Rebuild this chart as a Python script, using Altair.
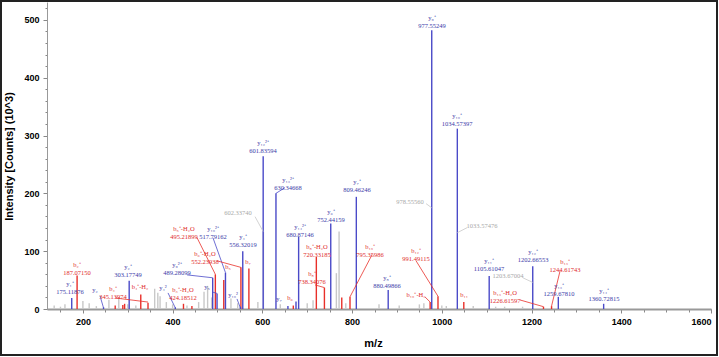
import altair as alt
import pandas as pd

# ---- peaks (m/z, intensity in 10^3 counts) ----
y_mz = [175.12, 246, 303.18, 406, 489.28, 499, 517.79, 551, 556.32, 601.84, 630.35, 657, 675,
        680.87, 752.44, 809.46, 880.50, 977.55, 1034.57, 1105.61, 1202.67, 1259.68, 1360.73]
y_int = [19, 3, 49, 3, 54, 27, 63, 4, 100, 264, 200, 5, 13,
         125, 148, 194, 33, 482, 312, 57, 74, 21, 9]

b_mz = [187.07, 272, 289, 293, 329, 345.14, 424.19, 443, 495.22, 514, 552.24, 570, 669,
        720.33, 738.34, 777, 795.36, 974, 991.49, 1049, 1226.62, 1244.62]
b_int = [58, 6, 7, 9, 25, 11, 9, 5, 60, 50, 72, 70, 6,
         90, 37, 20, 21, 12, 22, 12, 4, 5]

grey_mz = [136, 150, 160, 200, 214, 230, 258, 280, 300, 318, 360, 367, 372, 386, 400, 432,
           458, 470, 478, 487, 530, 545, 590, 602.34, 640, 700, 713, 765, 771, 786, 860,
           905, 950, 960, 1000, 1010, 1070, 1120, 1140, 1180]
grey_int = [6, 4, 8, 14, 10, 5, 16, 20, 8, 6, 35, 28, 22, 12, 8, 6,
            12, 30, 40, 20, 18, 10, 12, 134, 8, 10, 15, 62, 134, 10, 8,
            6, 8, 10, 6, 5, 5, 4, 4, 4]

# ---- axis ticks ----
x_major = [200, 400, 600, 800, 1000, 1200, 1400, 1600]
x_minor = list(range(150, 1601, 50))
y_major = [0, 100, 200, 300, 400, 500]
y_minor = list(range(0, 521, 20))

# ---- annotations ----
lab_text = [
    "y₁⁺\n175.11876", "y₂", "y₂⁺\n303.17749", "y₄²", "y₉²⁺\n489.28099", "y₅",
    "y₁₀²⁺\n517.79162", "y₁₀²", "y₄⁺\n556.32019", "y₁₂²⁺\n601.83594", "y₁₃²⁺\n630.34668",
    "y₇", "y₁₄²⁺\n680.87146", "y₆⁺\n752.44159", "y₇⁺\n809.46246", "y₈⁺\n880.49866",
    "y₉⁺\n977.55249", "y₁₀⁺\n1034.57397", "y₁₁⁺\n1105.61047", "y₁₂⁺\n1202.66553",
    "y₁₃⁺\n1259.67810", "y₁₄⁺\n1360.72815",
    "b₂⁺\n187.07150", "b₄⁺\n345.13974", "b₄⁺-H₂", "b₃⁺-H₂O\n424.18512",
    "b₅⁺-H₂O\n495.21899", "b₆⁺-H₂O\n552.23938", "b₅", "b₇", "b₆",
    "b₈⁺-H₂O\n720.33185", "b₈⁺\n738.34076", "b₁₀⁺\n795.35986", "b₁₂⁺\n991.49115",
    "b₁₀⁺-H₂", "b₁₁", "b₁₃⁺-H₂O\n1226.61597", "b₁₃⁺\n1244.61743",
    "602.33740", "978.55560", "1033.57476", "1203.67004",
]
lab_kind = ["y"] * 22 + ["b"] * 17 + ["g"] * 4
lab_mz = [171.3, 227, 300.6, 378.6, 409.8, 476.7, 490, 534.6, 556.9, 601.5, 657.2, 637.2,
          684, 753.1, 811, 877.9, 978.2, 1034, 1105.3, 1203.4, 1261.3, 1361.6,
          186.9, 267.1, 327.3, 423.2, 425.4, 472.2, 523.5, 568, 661.7, 721.9, 710.7,
          840, 942.6, 942.6, 1049.6, 1141, 1274.7,
          545.8, 929.2, 1089.7, 1147.6]
lab_int = [42.5, 33, 72.9, 36.5, 76.4, 38.2, 138, 24.3, 124.1, 287.3, 223.1, 17.4,
           141.5, 168.4, 219.6, 53.8, 503.5, 333.3, 83.3, 98.1, 39.9, 31.3,
           76.4, 34.7, 38.2, 32.1, 138, 95.5, 72.9, 81.6, 19.1, 107.6, 59.9,
           107.6, 99.8, 24.3, 24.3, 27.8, 80.7,
           166.7, 185.8, 144.1, 57.3]

# leader lines (from label to peak)
ld_kind = ["y"] * 7 + ["b"] * 9 + ["g"] * 4
ld_mz1 = [238.1, 389.7, 432.1, 490, 487.8, 543.5, 650.5,
          271.6, 454.4, 499, 717.4, 844.5, 942.6, 962.6, 1174.4, 1263.6,
          583.7, 964.8, 1056.2, 1181.1]
ld_int1 = [22.6, 27.8, 59, 123, 29.5, 17.4, 210,
           19.1, 123.3, 83.3, 41.7, 93.8, 83.3, 20.8, 15.6, 66,
           159.7, 182.3, 140.6, 53.8]
ld_mz2 = [246, 406, 489.28, 517.79, 499, 551, 630.35,
          345.14, 495.22, 552.24, 738.34, 795.36, 991.49, 974, 1226.62, 1244.62,
          601.84, 977.55, 1034.57, 1202.67]
ld_int2 = [2, 2, 54, 63, 27, 2, 200,
           12, 60, 72, 37, 21, 22, 12, 4, 5,
           134, 175, 132, 46]

peaks = pd.DataFrame({
    "mz": grey_mz + y_mz + b_mz,
    "inten": grey_int + y_int + b_int,
    "kind": ["g"] * len(grey_mz) + ["y"] * len(y_mz) + ["b"] * len(b_mz),
})
peaks["base"] = 0
labels = pd.DataFrame({"text": lab_text, "kind": lab_kind, "mz": lab_mz, "inten": lab_int})
leaders = pd.DataFrame({"kind": ld_kind, "mz1": ld_mz1, "i1": ld_int1, "mz2": ld_mz2, "i2": ld_int2})

line_col = alt.Scale(domain=["g", "y", "b"], range=["#c8c8c8", "#4a4ac8", "#e8302a"])
text_col = alt.Scale(domain=["g", "y", "b"], range=["#a8a8a8", "#3a3aa8", "#e02a2a"])

xs = alt.Scale(domain=[120, 1600], nice=False, zero=False)
ys = alt.Scale(domain=[0, 531], nice=False)

lab_style = dict(labelFont="Liberation Sans", labelFontWeight="bold", labelFontSize=9,
                 labelColor="black", labelOverlap=False, labelBound=False)
title_style = dict(titleFont="Liberation Sans", titleFontWeight="bold", titleFontSize=11,
                   titleColor="black")

x_axis = alt.Axis(
    orient="bottom", values=x_major, title="m/z", grid=False, format="d", labelFlush=True,
    labelPadding=4, tickSize=4, tickColor="#888", domainColor="#999", domainWidth=2,
    titleX=326, titleY=34, titleBaseline="middle", **lab_style, **title_style,
)
y_axis = alt.Axis(
    orient="left", values=y_major, title="Intensity [Counts] (10^3)", grid=False, format="d",
    labelFlush=False,
    labelPadding=4, tickSize=4, tickColor="#888", domainColor="#999", domainWidth=1,
    titleX=-38, titleY=154, titleBaseline="middle", titleAngle=270, **lab_style, **title_style,
)
x_minor_axis = alt.Axis(orient="bottom", values=x_minor, labels=False, domain=False,
                        grid=False, title=None, tickSize=3, tickColor="#888")
y_minor_axis = alt.Axis(orient="left", values=y_minor, labels=False, domain=False,
                        grid=False, title=None, tickSize=2, tickColor="#888")

minor_layer = alt.Chart(peaks).mark_rule(opacity=0).encode(
    x=alt.X("mz:Q", scale=xs, axis=x_minor_axis),
    y=alt.Y("inten:Q", scale=ys, axis=y_minor_axis),
)

peak_layer = alt.Chart(peaks).mark_rule(strokeWidth=1.4).encode(
    x=alt.X("mz:Q", scale=xs, axis=x_axis),
    y=alt.Y("inten:Q", scale=ys, axis=y_axis),
    y2="base:Q",
    color=alt.Color("kind:N", scale=line_col, legend=None),
    order=alt.Order("kind:N"),
)

leader_layer = alt.Chart(leaders).mark_rule(strokeWidth=0.8).encode(
    x=alt.X("mz1:Q", scale=xs, axis=None), y=alt.Y("i1:Q", scale=ys, axis=None),
    x2="mz2:Q", y2="i2:Q",
    color=alt.Color("kind:N", scale=line_col, legend=None),
)

text_layer = alt.Chart(labels).mark_text(
    font="Liberation Serif", fontSize=6.5, lineBreak="\n", lineHeight=8,
    align="center", baseline="middle",
).encode(
    x=alt.X("mz:Q", scale=xs, axis=None), y=alt.Y("inten:Q", scale=ys, axis=None),
    text="text:N",
    color=alt.Color("kind:N", scale=text_col, legend=None),
)

frame = alt.Chart(alt.Data(values=[{"a": 1}])).mark_rect(
    fill=None, stroke="#222", strokeWidth=2
).encode(
    x=alt.value(-46), x2=alt.value(670), y=alt.value(-1), y2=alt.value(353)
)

chart = alt.layer(minor_layer, peak_layer, leader_layer, text_layer, frame).resolve_scale(
    color="independent"
).resolve_axis(
    x="independent", y="independent"
).properties(
    width=664, height=307,
    autosize=alt.AutoSizeParams(type="none"),
    padding={"left": 47, "top": 2, "right": 8, "bottom": 48},
    background="white",
).configure_view(stroke=None)

chart.save("out.html", embed_options={"renderer": "svg", "actions": False})
